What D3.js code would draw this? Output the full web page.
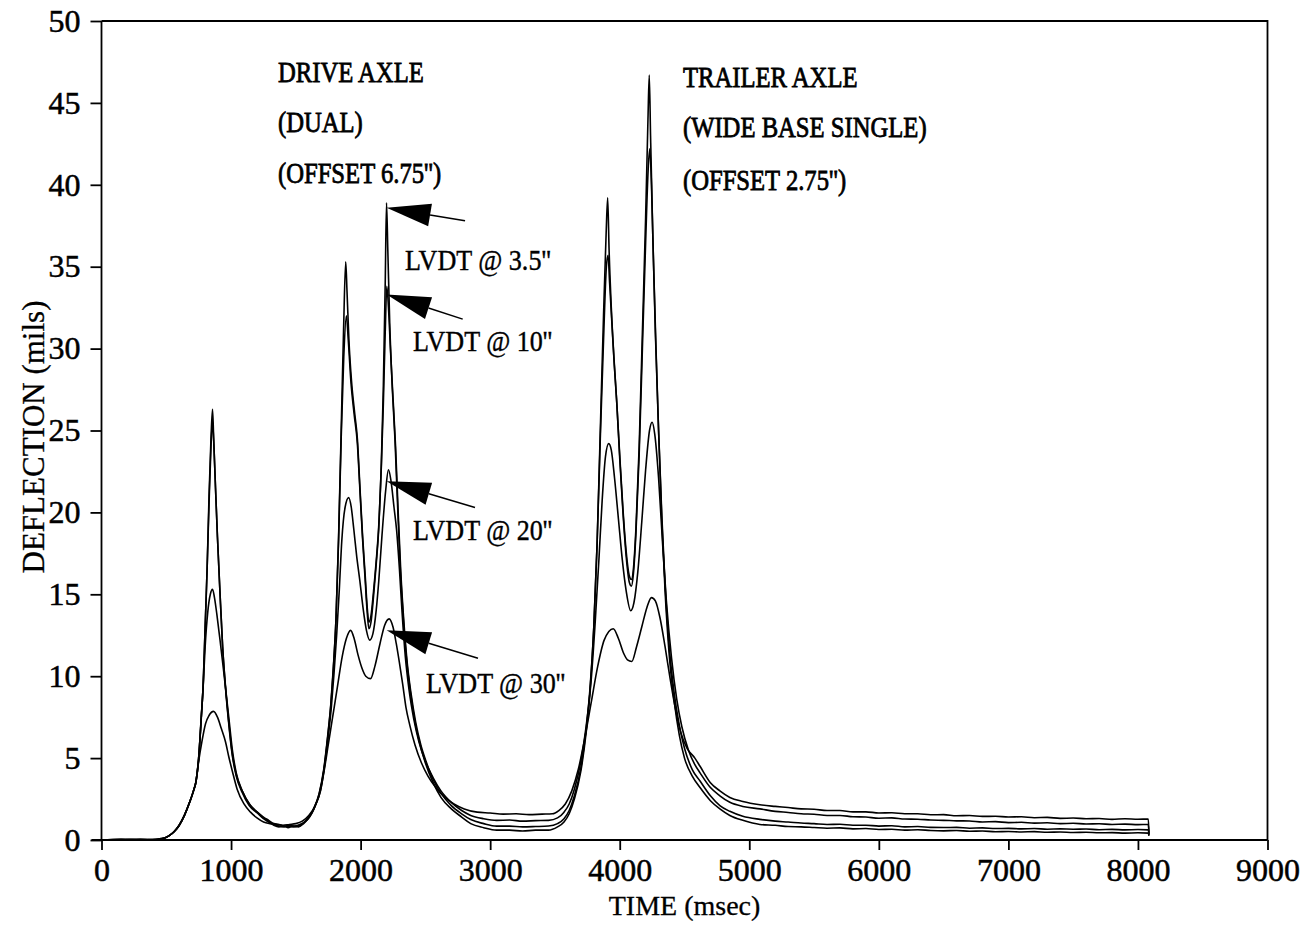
<!DOCTYPE html>
<html>
<head>
<meta charset="utf-8">
<script src="https://cdn.jsdelivr.net/npm/d3@7"></script>
<style>
  body { margin: 0; background: #fff; }
  text { font-family: "Liberation Serif", "DejaVu Serif", serif; fill: #000; }
</style>
</head>
<body>
<div id="chart"></div>
<script>
// tick values
const xTicks = [0, 1000, 2000, 3000, 4000, 5000, 6000, 7000, 8000, 9000];
const yTicks = [0, 5, 10, 15, 20, 25, 30, 35, 40, 45, 50];

// deflection traces, [time msec, deflection mils]
const lvdt35 = [[0,0],[150,0.05],[300,0],[420,0.05],[480,0.1],[520,0.25],[560,0.5],[600,0.9],[640,1.5],[680,2.3],[710,3.0],[730,3.6],[750,5.0],[770,7.5],[785,9.5],[800,13],[815,16.5],[830,21],[845,24.5],[857,26.3],[866,24.5],[880,21.5],[895,18.5],[914,15.2],[935,11.8],[957,9.3],[981,7.2],[1009,5.2],[1040,3.9],[1086,2.9],[1140,2.1],[1202,1.65],[1250,1.3],[1290,1.1],[1330,0.9],[1370,0.8],[1410,0.85],[1440,0.75],[1480,0.85],[1520,0.8],[1560,1.0],[1600,1.35],[1640,1.9],[1680,2.8],[1715,4.2],[1745,6.2],[1770,8.2],[1790,10.5],[1810,13.5],[1830,18.5],[1850,25],[1868,31],[1885,35.3],[1895,33.5],[1910,30.5],[1930,28],[1955,26],[1975,24.5],[1995,21.5],[2015,18.6],[2035,16.2],[2050,14.3],[2064,13.3],[2080,13.7],[2100,15.2],[2120,17],[2140,19.2],[2160,23],[2175,27.5],[2190,34],[2200,38.9],[2210,36],[2225,31.5],[2245,27.5],[2265,24.5],[2285,20.5],[2305,16.8],[2330,13.5],[2355,11],[2385,9],[2420,7.2],[2460,5.8],[2500,4.7],[2560,3.5],[2620,2.6],[2700,1.9],[2780,1.4],[2850,1.0],[2950,0.75],[3050,0.6],[3150,0.6],[3250,0.55],[3350,0.6],[3450,0.6],[3520,0.8],[3570,1.1],[3610,1.6],[3650,2.5],[3700,4.2],[3740,6.5],[3770,9],[3800,13],[3825,18],[3850,25],[3875,32],[3895,37],[3907,39.2],[3918,36],[3935,32.5],[3955,29.5],[3975,27],[4000,23.5],[4025,20.2],[4050,17.6],[4075,16.1],[4090,15.9],[4105,16.5],[4125,19],[4150,24],[4175,31],[4200,38],[4218,44],[4228,46.7],[4238,43],[4255,37],[4275,31],[4300,25],[4325,19.5],[4350,15.2],[4380,11.5],[4420,8.5],[4460,6.4],[4500,5.0],[4560,3.9],[4620,3.2],[4700,2.4],[4773,1.9],[4850,1.5],[4950,1.2],[5082,0.95],[5200,0.9],[5300,0.82],[5400,0.8],[5500,0.76],[5600,0.72],[5700,0.74],[5800,0.68],[5900,0.7],[6000,0.64],[6100,0.66],[6200,0.6],[6300,0.63],[6400,0.58],[6500,0.56],[6600,0.58],[6700,0.53],[6800,0.55],[6900,0.5],[7000,0.52],[7100,0.49],[7200,0.51],[7300,0.47],[7400,0.49],[7500,0.46],[7600,0.47],[7700,0.44],[7800,0.45],[7900,0.42],[8000,0.44],[8080,0.42],[8085,0.25]];

const lvdt10 = [[0,0],[150,0],[300,0.05],[420,0],[480,0.1],[520,0.25],[560,0.5],[600,0.9],[640,1.5],[680,2.3],[710,3.0],[730,3.6],[750,5.0],[770,7.5],[785,9.5],[800,13],[815,16.5],[830,20.5],[845,24],[857,25.5],[868,24],[880,21.5],[895,18.5],[914,15.2],[935,11.8],[957,9.4],[981,7.3],[1009,5.3],[1040,4.0],[1086,3.0],[1140,2.2],[1202,1.7],[1250,1.35],[1290,1.15],[1330,0.95],[1370,0.85],[1410,0.8],[1440,0.85],[1480,0.8],[1520,0.85],[1560,1.05],[1600,1.4],[1640,1.95],[1680,2.85],[1715,4.3],[1745,6.3],[1770,8.3],[1790,10.6],[1810,13.5],[1830,18.3],[1850,24.5],[1870,29.5],[1890,32],[1905,30.5],[1925,28],[1950,26],[1975,24.2],[1995,21.3],[2015,18.4],[2035,15.9],[2050,14],[2064,12.9],[2080,13.3],[2100,14.9],[2120,16.8],[2140,19],[2160,22.8],[2175,26.5],[2190,31],[2202,33.8],[2215,32.5],[2230,30],[2250,27],[2270,24],[2290,20],[2310,16.4],[2335,13.2],[2360,10.8],[2390,8.9],[2425,7.2],[2465,5.8],[2505,4.8],[2565,3.6],[2625,2.8],[2700,2.1],[2780,1.6],[2850,1.25],[2950,1.0],[3050,0.85],[3150,0.85],[3250,0.8],[3350,0.82],[3450,0.85],[3520,1.0],[3570,1.3],[3610,1.8],[3650,2.7],[3700,4.4],[3740,6.7],[3770,9.2],[3800,13],[3825,18],[3850,24.5],[3875,30.5],[3897,35],[3910,35.7],[3922,34],[3940,31.5],[3958,29],[3978,26.6],[4000,23.3],[4025,20],[4050,17.3],[4075,15.7],[4090,15.5],[4105,16.2],[4125,18.7],[4150,23.5],[4175,30],[4200,36.5],[4220,41],[4232,42.2],[4245,40],[4260,35.5],[4280,30],[4300,25],[4325,19.8],[4350,15.6],[4380,12],[4420,9],[4460,7],[4500,5.6],[4560,4.3],[4620,3.6],[4700,2.7],[4773,2.1],[4850,1.75],[4950,1.45],[5082,1.26],[5200,1.15],[5300,1.1],[5400,1.04],[5500,1.0],[5600,0.95],[5700,0.96],[5800,0.9],[5900,0.9],[6000,0.85],[6100,0.87],[6200,0.8],[6300,0.82],[6400,0.77],[6500,0.76],[6600,0.77],[6700,0.72],[6800,0.74],[6900,0.7],[7000,0.71],[7100,0.68],[7200,0.7],[7300,0.66],[7400,0.68],[7500,0.66],[7600,0.67],[7700,0.63],[7800,0.65],[7900,0.62],[8000,0.64],[8080,0.62],[8085,0.3]];

const lvdt20 = [[0,0],[150,0.05],[300,0],[420,0.05],[480,0.1],[520,0.25],[560,0.5],[600,0.9],[640,1.5],[680,2.3],[710,3.0],[730,3.6],[750,5.0],[770,7.4],[785,9.4],[800,11.8],[820,13.9],[840,15.0],[857,15.3],[872,14.8],[890,13.8],[915,12.2],[940,10.5],[960,9.1],[985,7.3],[1010,5.5],[1040,4.1],[1086,3.0],[1150,2.1],[1202,1.7],[1250,1.4],[1290,1.2],[1330,1.0],[1370,0.95],[1410,0.85],[1450,0.9],[1490,0.85],[1530,0.95],[1570,1.1],[1610,1.45],[1650,2.1],[1690,3.0],[1720,4.4],[1750,6.3],[1775,8.2],[1795,10.2],[1815,12.5],[1835,15.2],[1855,18.3],[1880,20.3],[1908,20.9],[1928,20.3],[1947,19],[1970,17.3],[1993,15.9],[2020,14.1],[2045,12.8],[2070,12.2],[2095,12.6],[2120,14],[2140,15.8],[2165,18.6],[2193,21.3],[2215,22.6],[2235,21.9],[2258,20.3],[2278,18.9],[2300,16.5],[2320,13.9],[2345,11.2],[2375,9.1],[2410,7.4],[2450,6.0],[2500,4.8],[2560,3.8],[2620,3.0],[2700,2.3],[2780,1.8],[2850,1.5],[2950,1.3],[3050,1.2],[3150,1.22],[3250,1.15],[3350,1.18],[3450,1.2],[3520,1.35],[3570,1.7],[3610,2.2],[3650,3.1],[3700,4.8],[3740,6.9],[3780,9.8],[3810,13.2],[3840,17.2],[3865,20.8],[3890,23.4],[3915,24.2],[3935,23.8],[3960,22.1],[3990,19.6],[4020,17.1],[4050,15.2],[4085,14.0],[4110,14.5],[4140,16.4],[4170,19.4],[4200,22.6],[4230,25.0],[4250,25.5],[4270,24.8],[4300,22.1],[4330,18.2],[4360,14.6],[4400,11.1],[4440,8.6],[4480,6.9],[4530,5.5],[4580,4.6],[4620,4.1],[4700,3.2],[4773,2.7],[4850,2.3],[4950,2.05],[5082,1.9],[5200,1.75],[5300,1.68],[5400,1.6],[5500,1.57],[5600,1.5],[5700,1.5],[5800,1.42],[5900,1.4],[6000,1.33],[6100,1.35],[6200,1.28],[6300,1.27],[6400,1.22],[6500,1.2],[6600,1.17],[6700,1.16],[6800,1.1],[6900,1.12],[7000,1.06],[7100,1.08],[7200,1.03],[7300,1.05],[7400,1.0],[7500,1.02],[7600,0.98],[7700,0.99],[7800,0.95],[7900,0.97],[8000,0.94],[8080,0.95],[8085,0.35]];

const lvdt30 = [[0,0],[150,0],[300,0.05],[420,0],[480,0.1],[520,0.25],[560,0.5],[600,0.9],[640,1.5],[680,2.3],[710,3.0],[730,3.6],[750,4.8],[775,6.0],[803,7.1],[830,7.6],[865,7.85],[895,7.5],[925,6.8],[957,6.0],[982,5.1],[1010,4.2],[1047,3.1],[1100,2.2],[1150,1.7],[1200,1.35],[1251,1.1],[1300,1.0],[1350,0.95],[1400,0.9],[1450,0.95],[1500,1.0],[1550,1.15],[1600,1.5],[1650,2.1],[1690,3.0],[1720,4.3],[1750,5.8],[1780,7.3],[1820,9.3],[1858,11.2],[1890,12.3],[1923,12.8],[1950,12.3],[1980,11.3],[2010,10.5],[2040,10.0],[2077,9.85],[2110,10.6],[2150,12],[2185,13.1],[2220,13.5],[2250,13.0],[2275,12.0],[2300,10.8],[2325,9.5],[2350,8.1],[2380,7.0],[2420,5.8],[2470,4.7],[2520,3.9],[2580,3.2],[2650,2.6],[2720,2.2],[2800,1.9],[2900,1.7],[3000,1.65],[3100,1.58],[3200,1.6],[3300,1.55],[3400,1.58],[3480,1.6],[3530,1.8],[3580,2.2],[3630,3.0],[3680,4.3],[3730,6.2],[3780,8.4],[3830,10.6],[3880,12.2],[3950,12.9],[3990,12.3],[4030,11.4],[4060,11.0],[4093,10.9],[4130,11.8],[4170,13.0],[4210,14.2],[4245,14.8],[4275,14.6],[4310,13.6],[4350,11.8],[4390,9.8],[4430,8.0],[4470,6.6],[4520,5.6],[4580,5.0],[4620,4.5],[4700,3.5],[4773,3.0],[4850,2.6],[4950,2.35],[5082,2.15],[5200,2.05],[5300,1.98],[5400,1.9],[5500,1.88],[5600,1.8],[5700,1.8],[5800,1.72],[5900,1.72],[6000,1.65],[6100,1.66],[6200,1.6],[6300,1.6],[6400,1.54],[6500,1.55],[6600,1.48],[6700,1.5],[6800,1.44],[6900,1.45],[7000,1.4],[7100,1.42],[7200,1.36],[7300,1.38],[7400,1.32],[7500,1.34],[7600,1.3],[7700,1.31],[7800,1.26],[7900,1.3],[8000,1.27],[8080,1.28],[8085,0.4]];

const series = [lvdt35, lvdt10, lvdt20, lvdt30];

// annotation texts
const driveNote = ["DRIVE  AXLE", "(DUAL)", "(OFFSET 6.75'')"];
const trailerNote = ["TRAILER  AXLE", "(WIDE  BASE  SINGLE)", "(OFFSET 2.75'')"];
const lvdtLabels = ["LVDT @ 3.5''", "LVDT @ 10''", "LVDT @ 20''", "LVDT @ 30''"];
const xTitle = "TIME (msec)";
const yTitle = "DEFLECTION (mils)";

// chart size
const W = 1302, H = 925;
const margin = { top: 21, right: 34.5, bottom: 85, left: 101.5 };
const width = W - margin.left - margin.right;
const height = H - margin.top - margin.bottom;

const svg = d3.select("#chart")
    .append("svg")
    .attr("width", W)
    .attr("height", H);

const g = svg.append("g")
    .attr("transform", `translate(${margin.left},${margin.top})`);

const x = d3.scaleLinear().domain([0, 9000]).range([0, width]);
const y = d3.scaleLinear().domain([0, 50]).range([height, 0]);

// frame (top and right)
g.append("path")
    .attr("d", `M0,0H${width}V${height}`)
    .attr("fill", "none")
    .attr("stroke", "#000")
    .attr("stroke-width", 1.8);

// axes
const yAxis = g.append("g")
    .call(d3.axisLeft(y).tickValues(yTicks).tickSize(11).tickSizeOuter(0).tickPadding(10).tickFormat(d3.format("d")));

const xAxis = g.append("g")
    .attr("transform", `translate(0,${height})`)
    .call(d3.axisBottom(x).tickValues(xTicks).tickSize(10).tickSizeOuter(0).tickPadding(8).tickFormat(d3.format("d")));

[xAxis, yAxis].forEach(a => {
    a.selectAll("path, line").attr("stroke", "#000").attr("stroke-width", 1.8);
    a.selectAll("text")
        .style("font-size", "32px")
        .style("font-family", "'Liberation Serif', serif")
        .attr("fill", "#000")
        .attr("stroke", "#000")
        .attr("stroke-width", 0.5);
});
yAxis.select(".domain").attr("d", `M0,${height}V0`);
xAxis.select(".domain").attr("d", `M-10,0H${width}`);

// traces
const line = d3.line()
    .x(d => x(d[0]))
    .y(d => y(d[1]))
    .curve(d3.curveMonotoneX);

g.selectAll(".trace")
    .data(series)
    .enter()
    .append("path")
    .attr("class", "trace")
    .attr("d", line)
    .attr("fill", "none")
    .attr("stroke", "#000")
    .attr("stroke-width", 1.6)
    .attr("stroke-linejoin", "round");

// condensed serif text helper
function note(px, py, str, size, sx, sw) {
    return g.append("text")
        .attr("transform", `translate(${px},${py}) scale(${sx},1)`)
        .style("font-size", size + "px")
        .attr("stroke", "#000")
        .attr("stroke-width", sw)
        .text(str);
}

// axle notes
const driveRows = [46.3, 43.2, 40.1];
driveNote.forEach((s, i) => note(x(1362), y(driveRows[i]), s, 29, 0.85, 0.8));
const trailerRows = [46.0, 42.9, 39.7];
trailerNote.forEach((s, i) => note(x(4488), y(trailerRows[i]), s, 29, 0.85, 0.8));

// arrows: tip and tail in data units
const arrows = [
    { tip: [2201, 38.6], tail: [2806, 37.8], label: [2343, 34.8] },
    { tip: [2201, 33.3], tail: [2788, 31.8], label: [2404, 29.85] },
    { tip: [2201, 21.9], tail: [2883, 20.3], label: [2404, 18.3] },
    { tip: [2201, 12.8], tail: [2906, 11.1], label: [2504, 8.97] }
];

arrows.forEach((a, i) => {
    const tx = x(a.tip[0]), ty = y(a.tip[1]);
    const ex = x(a.tail[0]), ey = y(a.tail[1]);
    const ang = Math.atan2(ey - ty, ex - tx);
    const hl = 44, hw = 11.5;
    const bx = tx + hl * Math.cos(ang), by = ty + hl * Math.sin(ang);
    const px = -Math.sin(ang) * hw, py = Math.cos(ang) * hw;
    g.append("line")
        .attr("x1", bx).attr("y1", by).attr("x2", ex).attr("y2", ey)
        .attr("stroke", "#000").attr("stroke-width", 1.5);
    g.append("path")
        .attr("d", `M${tx},${ty}L${bx + px},${by + py}L${bx - px},${by - py}Z`)
        .attr("fill", "#000");
    note(x(a.label[0]), y(a.label[1]), lvdtLabels[i], 29, 0.9, 0.4);
});

// axis titles
svg.append("text")
    .attr("transform", `translate(${margin.left + width / 2},915)`)
    .attr("text-anchor", "middle")
    .style("font-size", "28px")
    .attr("stroke", "#000")
    .attr("stroke-width", 0.3)
    .text(xTitle);

svg.append("text")
    .attr("transform", `translate(44,437) rotate(-90)`)
    .attr("text-anchor", "middle")
    .style("font-size", "31px")
    .attr("stroke", "#000")
    .attr("stroke-width", 0.3)
    .text(yTitle);
</script>
</body>
</html>
